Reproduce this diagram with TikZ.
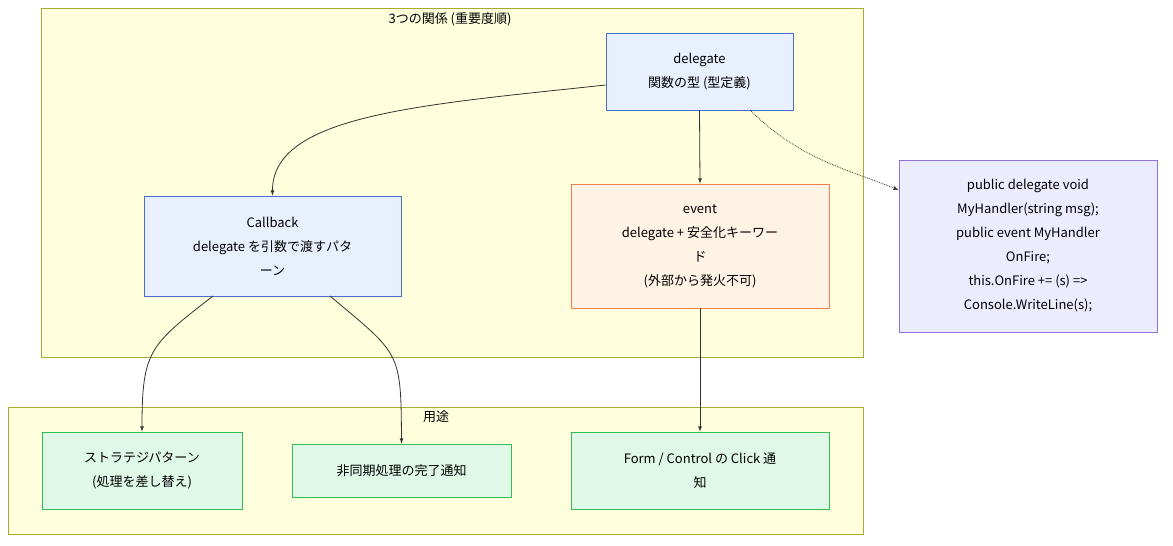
\documentclass[tikz,border=0pt]{standalone}
\usepackage{fontspec}
\setmainfont{Noto Sans CJK JP}
\usetikzlibrary{positioning}
\definecolor{grpfill}{HTML}{FFFFDE}
\definecolor{grpline}{HTML}{AAAA33}
\definecolor{bluefill}{HTML}{E8F0FE}
\definecolor{blueline}{HTML}{4A6FD0}
\definecolor{orgfill}{HTML}{FFF3E6}
\definecolor{orgline}{HTML}{F08050}
\definecolor{purfill}{HTML}{ECECFF}
\definecolor{purline}{HTML}{9370DB}
\definecolor{grnfill}{HTML}{E0F8E8}
\definecolor{grnline}{HTML}{33BB55}
\definecolor{edge}{HTML}{333333}

\tikzset{
  box/.style={draw,align=center,inner sep=0pt,font=\fontsize{13}{24}\selectfont,line width=0.8pt},
  blue/.style={box,fill=bluefill,draw=blueline},
  use/.style={box,fill=grnfill,draw=grnline},
  link/.style={draw=edge,line width=0.8pt,-latex},
}

\begin{document}
\begin{tikzpicture}[x=1pt,y=-1pt]
  \useasboundingbox (0,0) rectangle (1173,546);
  \draw[fill=grpfill,draw=grpline] (41,8) rectangle (863,357);
  \draw[fill=grpfill,draw=grpline] (8,407) rectangle (863,534);
  \node[font=\fontsize{13}{16}\selectfont] (top) at (450,19) {3つの関係 (重要度順)};
  \node[font=\fontsize{13}{16}\selectfont] (bottom) at (436,417) {用途};

  \node[blue,minimum width=187,minimum height=77] (delegate) at (699.5,71.5) {delegate\\関数の型 (型定義)};
  \node[blue,minimum width=257,minimum height=100] (callback) at (272.5,246) {Callback\\delegate を引数で渡すパタ\\ーン};
  \node[box,fill=orgfill,draw=orgline,minimum width=258,minimum height=124] (event) at (700,246) {event\\delegate + 安全化キーワー\\ド\\(外部から発火不可)};
  \node[box,fill=purfill,draw=purline,minimum width=258,minimum height=172] (code) at (1028,246) {public delegate void\\MyHandler(string msg);\\public event MyHandler\\OnFire;\\this.OnFire += (s) =>\\Console.WriteLine(s);};

  \node[use,minimum width=200,minimum height=77] (strategy) at (142,470.5) {ストラテジパターン\\(処理を差し替え)};
  \node[use,minimum width=219,minimum height=53] (async) at (401.5,470.5) {非同期処理の完了通知};
  \node[use,minimum width=258,minimum height=77] (form) at (700,470.5) {Form / Control の Click 通\\知};

  \draw[link] (delegate.west |- 0,85) .. controls (420,105) and (272,115) .. (callback.north);
  \draw[link] (delegate.south) -- (event.north);
  \draw[link,densely dotted] (750,110) .. controls (800,160) and (850,170) .. (code.west |- 0,190);
  \draw[link] (213,296) .. controls (150,345) and (142,350) .. (strategy.north);
  \draw[link] (330,296) .. controls (400,355) and (401,350) .. (async.north);
  \draw[link] (event.south) -- (form.north);
\end{tikzpicture}
\end{document}
